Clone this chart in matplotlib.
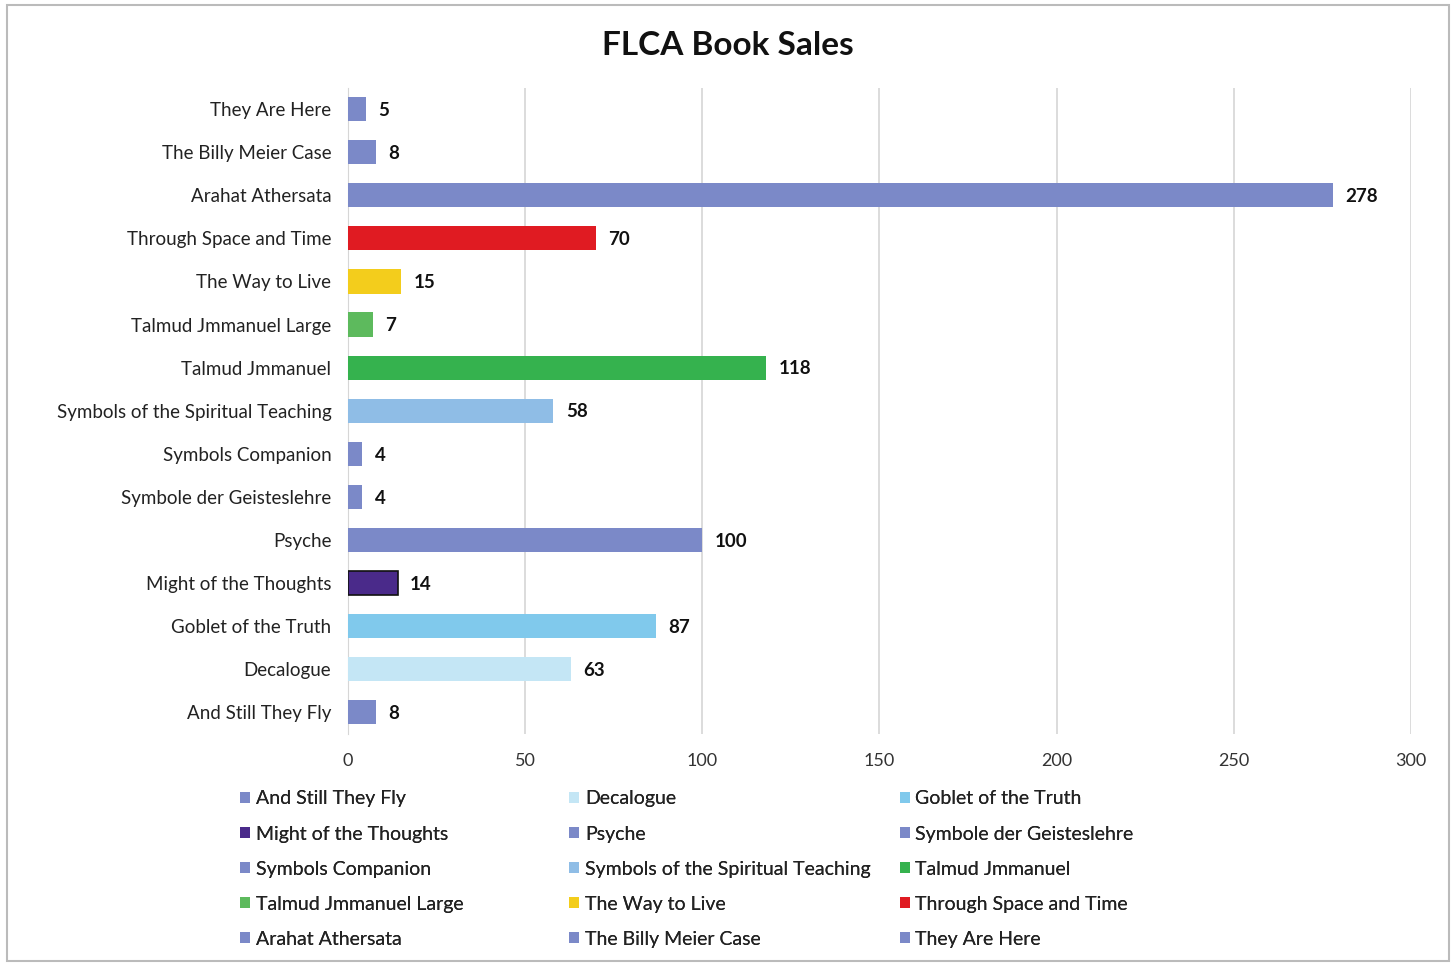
import matplotlib.pyplot as plt
from matplotlib.patches import Rectangle, Patch

plt.rcParams['font.family'] = ['Lato', 'DejaVu Sans']

# --- data (bottom to top) ---
books = ['And Still They Fly', 'Decalogue', 'Goblet of the Truth', 'Might of the Thoughts',
         'Psyche', 'Symbole der Geisteslehre', 'Symbols Companion',
         'Symbols of the Spiritual Teaching', 'Talmud Jmmanuel', 'Talmud Jmmanuel Large',
         'The Way to Live', 'Through Space and Time', 'Arahat Athersata',
         'The Billy Meier Case', 'They Are Here']
sales = [8, 63, 87, 14, 100, 4, 4, 58, 118, 7, 15, 70, 278, 8, 5]
colors = ['#7b89c8', '#c4e6f5', '#80c9ec', '#4a2a8a', '#7b89c8', '#7b89c8', '#7b89c8',
          '#8fbde6', '#35b24e', '#5dba5d', '#f3cd1c', '#e01b22', '#7b89c8',
          '#7b89c8', '#7b89c8']
edges = ['none'] * len(books)
edges[3] = '#111111'
xticks = [0, 50, 100, 150, 200, 250, 300]

fig = plt.figure(figsize=(14.56, 9.64), dpi=100)
ax = fig.add_axes([0.239, 0.239, 0.730, 0.670])

ypos = list(range(len(books)))
ax.barh(ypos, sales, height=0.56, color=colors, edgecolor=edges, linewidth=1.2, zorder=3)
for y, v in zip(ypos, sales):
    ax.text(v + 3.5, y - 0.03, str(v), va='center', ha='left', fontsize=13.5,
            fontweight='bold', color='#111111')

ax.set_xlim(0, 300)
ax.set_ylim(-0.5, len(books) - 0.5)
ax.set_yticks(ypos)
ax.set_yticklabels(books, fontsize=13.5, color='#222222')
ax.set_xticks(xticks)
ax.set_xticklabels([str(t) for t in xticks], fontsize=13, color='#333333')
ax.tick_params(axis='both', length=0)
ax.tick_params(axis='y', pad=12)
ax.tick_params(axis='x', pad=14)
ax.grid(axis='x', color='#d6d6d6', linewidth=1.2, zorder=0)
for s in ['top', 'right', 'bottom']:
    ax.spines[s].set_visible(False)
ax.spines['left'].set_color('#d6d6d6')

fig.text(0.5, 0.953, 'FLCA Book Sales', ha='center', va='center',
         fontsize=24, fontweight='bold', color='#111111')

# legend: three fixed-width columns, filled row by row
handles = [Patch(facecolor=c, edgecolor='none') for c in colors]
col_x = [0.165, 0.391, 0.618]
for col in range(3):
    idx = list(range(col, len(books), 3))
    leg = fig.legend([handles[i] for i in idx], [books[i] for i in idx],
                     loc='upper left', bbox_to_anchor=(col_x[col], 0.180),
                     frameon=False, fontsize=14, handlelength=0.5, handleheight=0.5,
                     handletextpad=0.3, labelspacing=0.93, borderpad=0,
                     borderaxespad=0, labelcolor='#222222')
    fig.add_artist(leg)

fig.patches.append(Rectangle((0.005, 0.003), 0.99, 0.992, transform=fig.transFigure,
                             fill=False, edgecolor='#bbbbbb', linewidth=1.5))

fig.savefig('out.png', dpi=100)
